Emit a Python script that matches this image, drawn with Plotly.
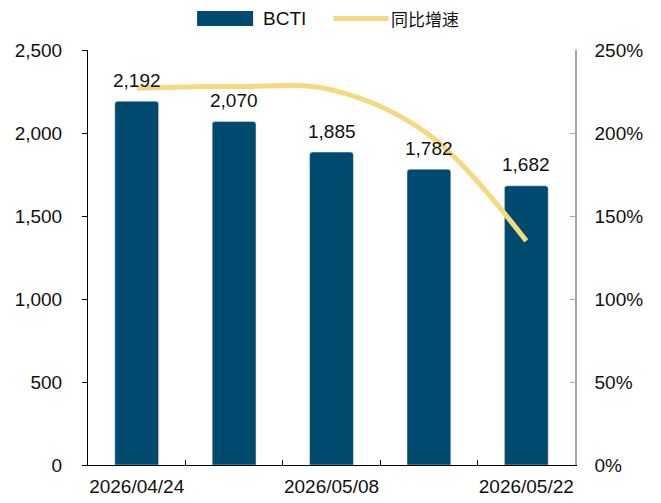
import plotly.graph_objects as go

# data
dates = ["2026/04/24", "2026/05/01", "2026/05/08", "2026/05/15", "2026/05/22"]
bcti = [2192, 2070, 1885, 1782, 1682]
yoy = [2.27, 2.28, 2.26, 1.99, 1.35]  # 同比增速, as fraction
tick_labels = ["2026/04/24", "", "2026/05/08", "", "2026/05/22"]
bar_name = "BCTI"
line_name = "同比增速"

bar_color = "#004A70"
line_color = "#F5D97F"
font_main = "Arial, Liberation Sans, sans-serif"

fig = go.Figure()

fig.add_trace(go.Bar(x=dates, y=bcti, name=bar_name, marker_color=bar_color,
                     marker_cornerradius=3, width=0.45, showlegend=False))

fig.add_trace(go.Scatter(x=dates, y=yoy, name=line_name, yaxis="y2",
                         mode="lines", line=dict(color=line_color, width=5,
                                                 shape="spline", smoothing=1.0),
                         showlegend=False))

# value labels above the bars
for d, v in zip(dates, bcti):
    fig.add_annotation(x=d, y=v, text=f"{v:,}", showarrow=False,
                       yshift=21, font=dict(size=19, color="#111"))

# hand-made legend (wide swatches like the original)
fig.add_shape(type="rect", xref="paper", yref="paper", x0=0.224, x1=0.339,
              y0=1.058, y1=1.094, fillcolor=bar_color, line_width=0)
fig.add_annotation(xref="paper", yref="paper", x=0.356, y=1.076,
                   xanchor="left", yanchor="middle", text=bar_name,
                   showarrow=False, font=dict(size=19, color="#111"))
fig.add_shape(type="line", xref="paper", yref="paper", x0=0.504, x1=0.617,
              y0=1.076, y1=1.076, line=dict(color=line_color, width=5))
fig.add_annotation(xref="paper", yref="paper", x=0.618, y=1.076,
                   xanchor="left", yanchor="middle", text=line_name,
                   showarrow=False,
                   font=dict(size=17, color="#111",
                             family="Noto Sans CJK SC, sans-serif"))

fig.update_layout(
    width=661, height=503,
    margin=dict(l=88, r=86, t=50, b=38),
    plot_bgcolor="white", paper_bgcolor="white",
    font=dict(family=font_main, size=19, color="#111"),
    xaxis=dict(type="category", tickmode="array", tickvals=dates,
               ticktext=tick_labels, tickson="boundaries", ticks="inside",
               ticklen=5, tickcolor="black", showline=True, linecolor="black",
               linewidth=1, showgrid=False, tickangle=0, automargin=False,
               ticklabelstandoff=4),
    yaxis=dict(range=[0, 2500], dtick=500, tickformat=",", showgrid=False,
               showline=True, linecolor="black", linewidth=1, ticks="outside",
               ticklen=5, tickcolor="black", zeroline=False, automargin=False,
               ticklabelstandoff=16),
    yaxis2=dict(range=[0, 2.5], dtick=0.5, tickformat=".0%", overlaying="y",
                side="right", showgrid=False, showline=True,
                linecolor="#A6A6A6", linewidth=1.5, ticks="inside", ticklen=5,
                tickcolor="#A6A6A6", zeroline=False, automargin=False,
                ticklabelstandoff=14),
)

# drop the browser's default page margin so the figure sits at 0,0
fig.write_html("out.html", config={"displayModeBar": False},
               post_script="document.body.style.margin='0';")
